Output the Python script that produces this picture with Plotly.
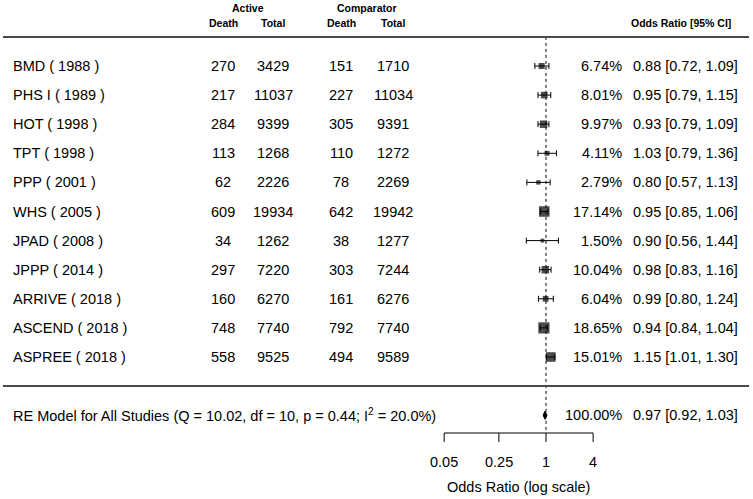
import math
import plotly.graph_objects as go

# ---------------- data ----------------
studies = ["BMD ( 1988 )", "PHS I ( 1989 )", "HOT ( 1998 )", "TPT ( 1998 )", "PPP ( 2001 )",
           "WHS ( 2005 )", "JPAD ( 2008 )", "JPPP ( 2014 )", "ARRIVE ( 2018 )",
           "ASCEND ( 2018 )", "ASPREE ( 2018 )"]
active_death = [270, 217, 284, 113, 62, 609, 34, 297, 160, 748, 558]
active_total = [3429, 11037, 9399, 1268, 2226, 19934, 1262, 7220, 6270, 7740, 9525]
comp_death = [151, 227, 305, 110, 78, 642, 38, 303, 161, 792, 494]
comp_total = [1710, 11034, 9391, 1272, 2269, 19942, 1277, 7244, 6276, 7740, 9589]
weights = [6.74, 8.01, 9.97, 4.11, 2.79, 17.14, 1.50, 10.04, 6.04, 18.65, 15.01]
odds = [0.88, 0.95, 0.93, 1.03, 0.80, 0.95, 0.90, 0.98, 0.99, 0.94, 1.15]
ci_lo = [0.72, 0.79, 0.79, 0.79, 0.57, 0.85, 0.56, 0.83, 0.80, 0.84, 1.01]
ci_hi = [1.09, 1.15, 1.09, 1.36, 1.13, 1.06, 1.44, 1.16, 1.24, 1.04, 1.30]
re_label = "RE Model for All Studies (Q = 10.02, df = 10, p = 0.44; I<sup>2</sup> = 20.0%)"
re_weight = 100.00
re_or, re_lo, re_hi = 0.97, 0.92, 1.03
tick_vals = [0.05, 0.25, 1, 4]
tick_text = ["0.05", "0.25", "1", "4"]

# ---------------- geometry helpers ----------------
W, H = 753, 499
PX_PER_UNIT = 34.0      # pixels per ln unit
X0_PX = 546.0           # pixel of OR = 1
ROW_PX = 29.1
ROW1_PX = 357.0         # pixel y of row 1


def px(xp):
    return (xp - X0_PX) / PX_PER_UNIT


def row_of(yp):
    return 1 + (ROW1_PX - yp) / ROW_PX


FONT = "Arial, Liberation Sans, Helvetica, sans-serif"
FS = 14.5
HFS = 10.5

k = len(studies)
rows = [k - i for i in range(k)]  # BMD top (row 11) ... ASPREE row 1

fig = go.Figure()

# study squares with CIs
lx = [math.log(v) for v in odds]
wmin, wmax = min(weights), max(weights)
sizes = [3.8 + (w - wmin) / (wmax - wmin) * 7.4 for w in weights]
fig.add_trace(go.Scatter(
    x=lx, y=rows, mode="markers",
    marker=dict(symbol="square", size=sizes, color="black", line=dict(width=0)),
    error_x=dict(type="data", symmetric=False,
                 array=[math.log(h) - math.log(o) for h, o in zip(ci_hi, odds)],
                 arrayminus=[math.log(o) - math.log(l) for l, o in zip(ci_lo, odds)],
                 thickness=1, width=3, color="black"),
    showlegend=False, hoverinfo="skip"))

# RE diamond
dh = 0.14
fig.add_trace(go.Scatter(
    x=[math.log(re_lo), math.log(re_or), math.log(re_hi), math.log(re_or), math.log(re_lo)],
    y=[-1, -1 + dh, -1, -1 - dh, -1],
    mode="lines", fill="toself", fillcolor="black",
    line=dict(color="black", width=1), showlegend=False, hoverinfo="skip"))

shapes = []
# reference dotted line at OR = 1
shapes.append(dict(type="line", xref="x", yref="y", x0=0, x1=0,
                   y0=12, y1=row_of(433), line=dict(color="black", width=1, dash="dot")))
# header and separator lines
for r in (12, 0):
    shapes.append(dict(type="line", xref="x", yref="y", x0=px(3), x1=px(749), y0=r, y1=r,
                       line=dict(color="#4a4a4a", width=2)))
# x axis line and ticks
ay = row_of(433)
shapes.append(dict(type="line", xref="x", yref="y",
                   x0=math.log(tick_vals[0]), x1=math.log(tick_vals[-1]), y0=ay, y1=ay,
                   line=dict(color="black", width=1)))
for tv in tick_vals:
    shapes.append(dict(type="line", xref="x", yref="y", x0=math.log(tv), x1=math.log(tv),
                       y0=ay, y1=row_of(442), line=dict(color="black", width=1)))

ann = []


def text(x, y, t, anchor="center", size=FS, bold=False):
    ann.append(dict(x=x, y=y, xref="x", yref="y", text=(f"<b>{t}</b>" if bold else t),
                    showarrow=False, xanchor=anchor, yanchor="middle",
                    font=dict(family=FONT, size=size, color="black")))


# headers
text(px(248), row_of(7.5), "Active", bold=True, size=HFS)
text(px(367), row_of(7.5), "Comparator", bold=True, size=HFS)
for c, t in zip([223, 273, 341, 393], ["Death", "Total", "Death", "Total"]):
    text(px(c), row_of(23), t, bold=True, size=HFS)
text(px(733), row_of(22.5), "Odds Ratio [95% CI]", anchor="right", bold=True, size=HFS)

# rows
for i in range(k):
    r = rows[i]
    text(px(11), r, studies[i], anchor="left")
    text(px(223), r, str(active_death[i]))
    text(px(273), r, str(active_total[i]))
    text(px(341), r, str(comp_death[i]))
    text(px(393), r, str(comp_total[i]))
    text(px(624), r, f"{weights[i]:.2f}%", anchor="right")
    text(px(740), r, f"{odds[i]:.2f} [{ci_lo[i]:.2f}, {ci_hi[i]:.2f}]", anchor="right")

# RE model row
text(px(11), -1, re_label, anchor="left")
text(px(624), -1, f"{re_weight:.2f}%", anchor="right")
text(px(740), -1, f"{re_or:.2f} [{re_lo:.2f}, {re_hi:.2f}]", anchor="right")

# axis tick labels and title
for tv, tt in zip(tick_vals, tick_text):
    text(math.log(tv), row_of(462), tt)
text(px(518), row_of(487), "Odds Ratio (log scale)")

fig.update_layout(
    width=W, height=H, margin=dict(l=0, r=0, t=0, b=0),
    paper_bgcolor="white", plot_bgcolor="white",
    xaxis=dict(range=[px(0), px(W)], visible=False, fixedrange=True),
    yaxis=dict(range=[row_of(H), row_of(0)], visible=False, fixedrange=True),
    shapes=shapes, annotations=ann, showlegend=False)

fig.write_html("out.html", config={"displayModeBar": False},
               post_script="document.body.style.margin='0';document.body.style.overflow='hidden';")
